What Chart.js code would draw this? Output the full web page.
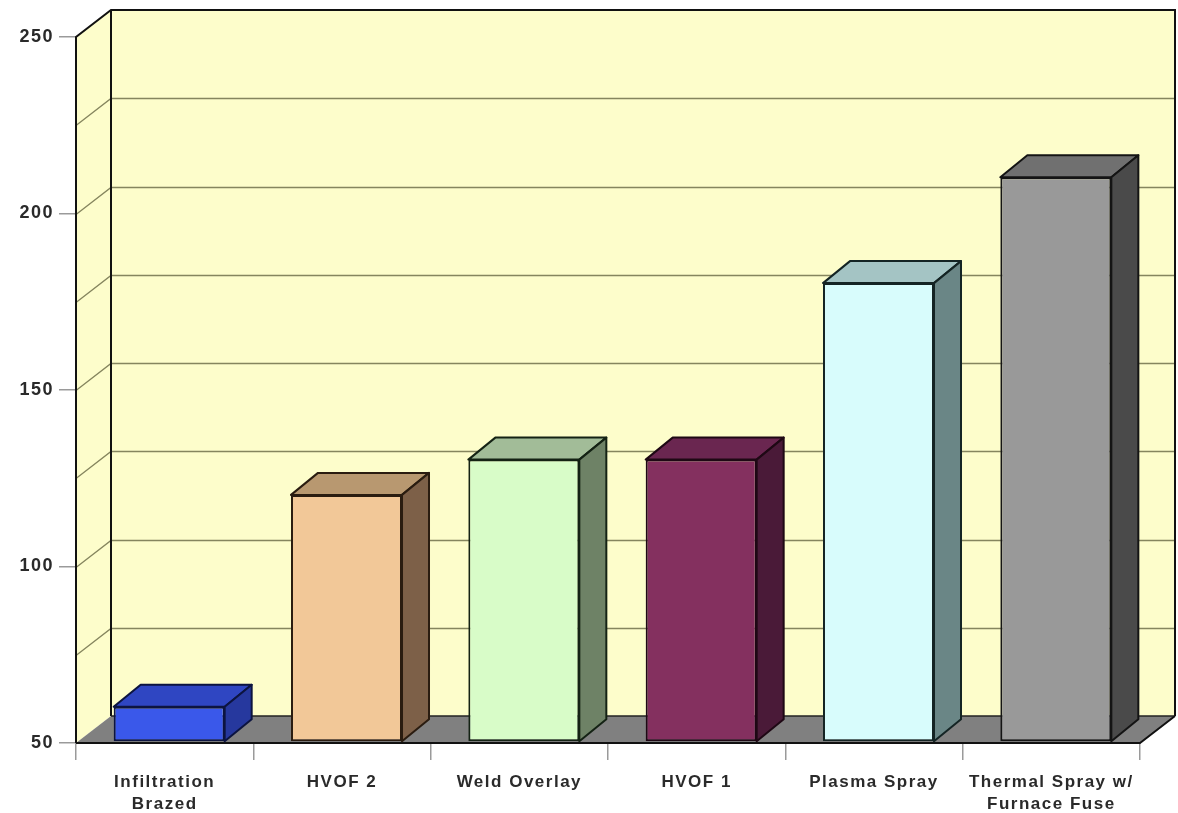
<!DOCTYPE html>
<html>
<head>
<meta charset="utf-8">
<script src="https://cdn.jsdelivr.net/npm/chart.js@4.4.1/dist/chart.umd.min.js"></script>
<style>
html,body{margin:0;padding:0;background:#ffffff;}
#wrap{width:1178px;height:813px;}
</style>
</head>
<body>
<div id="wrap"><canvas id="c" width="1178" height="813"></canvas></div>
<script>
const categories = [["Infiltration","Brazed"],"HVOF 2","Weld Overlay","HVOF 1","Plasma Spray",["Thermal Spray w/","Furnace Fuse"]];
const values = [60, 120, 130, 130, 180, 210];
const yTicks = [50, 100, 150, 200, 250];
const gridValues = [75, 100, 125, 150, 175, 200, 225];
const frontColors = ["#3a58ea","#f2c898","#d8fcc8","#84305f","#d8fcfc","#999999"];
const topColors   = ["#2f46c2","#b89870","#a2bc98","#6a2650","#a4c4c4","#707070"];
const sideColors  = ["#26389e","#7d6048","#6e8266","#4a1a38","#6a8686","#4a4a4a"];
const edgeColors  = ["#0c1440","#2a1c10","#142214","#1e0814","#142424","#141414"];

const WALL_DX = 35, WALL_DY = 27;
const BAR_DX = 27, BAR_DY = 22;
const BAR_SHIFT = 4.5;

const threeD = {
  id: 'threeD',
  beforeDraw(chart) {
    chart.ctx.letterSpacing = '1.5px';
  },
  beforeDatasetsDraw(chart) {
    const ctx = chart.ctx;
    const a = chart.chartArea;
    const ys = chart.scales.y;
    const L = a.left, R = a.right, T = a.top, B = a.bottom;
    ctx.save();
    ctx.fillStyle = '#fdfdcb';
    ctx.fillRect(L + WALL_DX, T - WALL_DY, R - L, B - T);
    ctx.beginPath();
    ctx.moveTo(L, T); ctx.lineTo(L + WALL_DX, T - WALL_DY);
    ctx.lineTo(L + WALL_DX, B - WALL_DY); ctx.lineTo(L, B); ctx.closePath();
    ctx.fill();
    ctx.strokeStyle = '#85855e';
    ctx.lineWidth = 1.3;
    gridValues.forEach(v => {
      const y = Math.round(ys.getPixelForValue(v)) + 0.5;
      ctx.beginPath();
      ctx.moveTo(L, y);
      ctx.lineTo(L + WALL_DX, y - WALL_DY);
      ctx.lineTo(R + WALL_DX, y - WALL_DY);
      ctx.stroke();
    });
    ctx.strokeStyle = '#111';
    ctx.lineWidth = 2;
    ctx.beginPath();
    ctx.moveTo(L, B); ctx.lineTo(L, T); ctx.lineTo(L + WALL_DX, T - WALL_DY);
    ctx.lineTo(R + WALL_DX, T - WALL_DY); ctx.lineTo(R + WALL_DX, B - WALL_DY);
    ctx.stroke();
    ctx.beginPath();
    ctx.moveTo(L + WALL_DX, T - WALL_DY); ctx.lineTo(L + WALL_DX, B - WALL_DY);
    ctx.stroke();
    ctx.fillStyle = '#808080';
    ctx.beginPath();
    ctx.moveTo(L, B); ctx.lineTo(L + WALL_DX, B - WALL_DY);
    ctx.lineTo(R + WALL_DX, B - WALL_DY); ctx.lineTo(R, B); ctx.closePath();
    ctx.fill();
    ctx.strokeStyle = '#222';
    ctx.lineWidth = 1.5;
    ctx.beginPath();
    ctx.moveTo(L + WALL_DX, B - WALL_DY); ctx.lineTo(R + WALL_DX, B - WALL_DY);
    ctx.stroke();
    ctx.strokeStyle = '#111';
    ctx.lineWidth = 2;
    ctx.beginPath();
    ctx.moveTo(L, B); ctx.lineTo(R, B); ctx.lineTo(R + WALL_DX, B - WALL_DY);
    ctx.stroke();
    ctx.restore();
    ctx.save();
    ctx.translate(BAR_SHIFT, -1);
  },
  afterDatasetsDraw(chart) {
    const ctx = chart.ctx;
    const meta = chart.getDatasetMeta(0);
    const B = chart.chartArea.bottom;
    ctx.lineJoin = 'round';
    meta.data.forEach((bar, i) => {
      const x0 = bar.x - bar.width / 2, x1 = bar.x + bar.width / 2;
      const yT = bar.y, yB = Math.min(bar.base, B);
      ctx.lineWidth = 2;
      ctx.strokeStyle = edgeColors[i];
      ctx.fillStyle = topColors[i];
      ctx.beginPath();
      ctx.moveTo(x0, yT); ctx.lineTo(x0 + BAR_DX, yT - BAR_DY);
      ctx.lineTo(x1 + BAR_DX, yT - BAR_DY); ctx.lineTo(x1, yT); ctx.closePath();
      ctx.fill(); ctx.stroke();
      ctx.fillStyle = sideColors[i];
      ctx.beginPath();
      ctx.moveTo(x1, yT); ctx.lineTo(x1 + BAR_DX, yT - BAR_DY);
      ctx.lineTo(x1 + BAR_DX, yB - BAR_DY); ctx.lineTo(x1, yB); ctx.closePath();
      ctx.fill(); ctx.stroke();
    });
    ctx.restore();
  }
};

new Chart(document.getElementById('c'), {
  type: 'bar',
  data: {
    labels: categories,
    datasets: [{
      data: values,
      base: 50,
      backgroundColor: frontColors,
      borderColor: edgeColors,
      borderWidth: 2,
      borderSkipped: false,
      categoryPercentage: 1.0,
      barPercentage: 0.626
    }]
  },
  options: {
    responsive: false,
    animation: false,
    devicePixelRatio: 1,
    layout: { padding: { top: 37, right: 38, left: 0, bottom: 0 } },
    plugins: { legend: { display: false }, tooltip: { enabled: false } },
    scales: {
      y: {
        min: 50, max: 250,
        afterFit(s) { s.width = 76; },
        afterBuildTicks(s) { s.ticks = yTicks.map(v => ({ value: v })); },
        border: { display: false },
        grid: { drawOnChartArea: false, drawTicks: true, tickLength: 17, color: '#9a9a9a', lineWidth: 1.5 },
        ticks: { padding: 5, color: '#2a2a2a', font: { family: 'Liberation Sans, Arial, sans-serif', size: 18, weight: 'bold' } }
      },
      x: {
        afterFit(s) { s.height = 70; },
        border: { display: false },
        grid: { offset: true, drawOnChartArea: false, drawTicks: true, tickLength: 17, color: '#9a9a9a', lineWidth: 1.5 },
        ticks: { padding: 11, maxRotation: 0, autoSkip: false, color: '#2a2a2a', font: { family: 'Liberation Sans, Arial, sans-serif', size: 17, weight: 'bold', lineHeight: 1.3 } }
      }
    }
  },
  plugins: [threeD]
});
</script>
</body>
</html>
